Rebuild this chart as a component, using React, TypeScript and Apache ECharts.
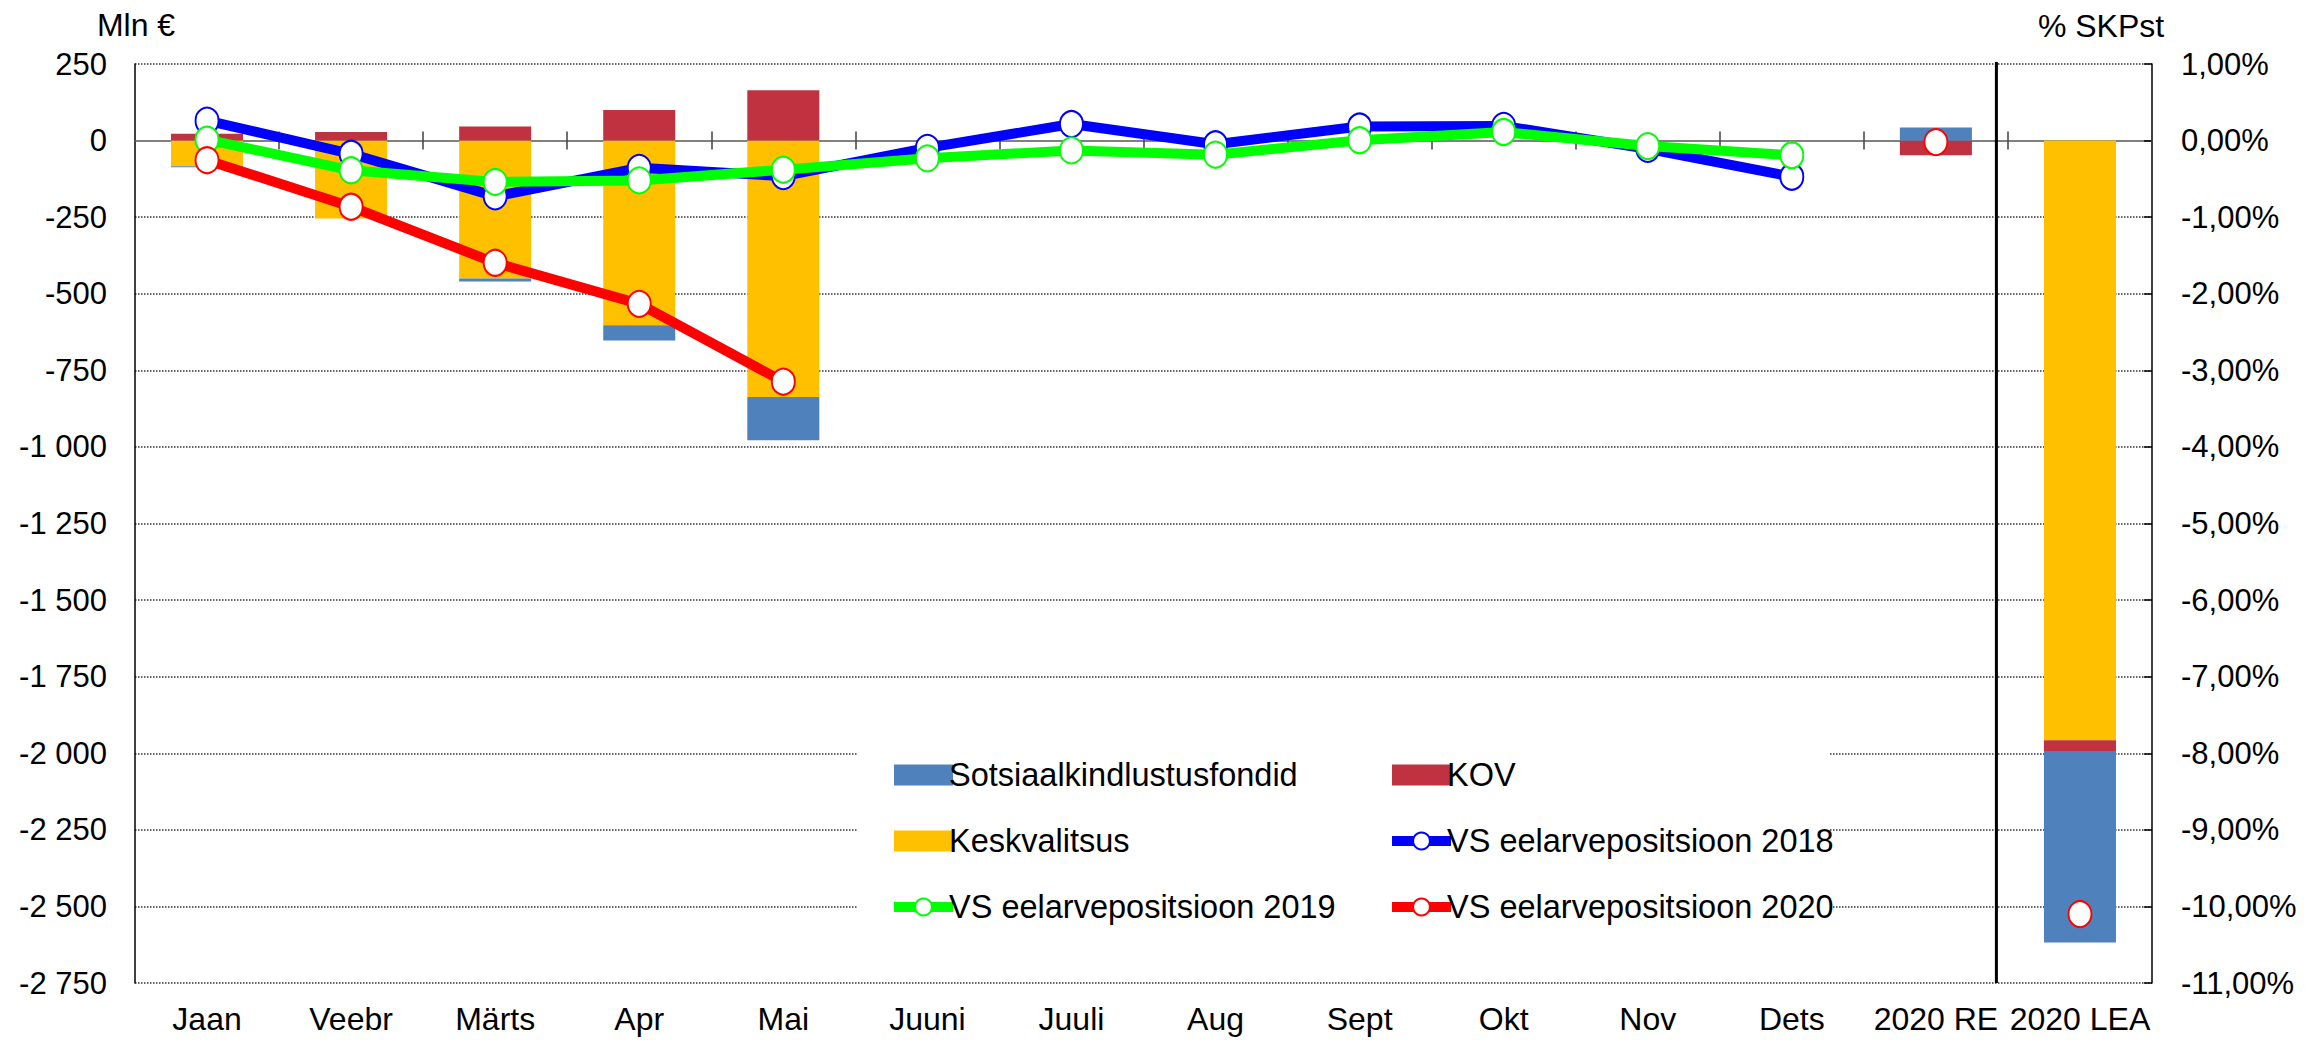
import React, { useEffect, useRef } from "react";
import * as echarts from "echarts";

const categories = ["Jaan", "Veebr", "Märts", "Apr", "Mai", "Juuni", "Juuli", "Aug", "Sept", "Okt", "Nov", "Dets", "2020 RE", "2020 LEA"];

// Monthly bars (Mln €), left axis
const keskvalitsusMln = [-84, -254, -450, -603, -837, null, null, null, null, null, null, null, null, null];
const kovMln = [22, 28, 46, 100, 164, null, null, null, null, null, null, null, null, null];
const sotsiaalMln = [-3, 0, -10, -50, -141, null, null, null, null, null, null, null, null, null];

// Annual bars (% SKPst), right axis
const keskvalitsusPct = [null, null, null, null, null, null, null, null, null, null, null, null, 0, -7.83];
const kovPct = [null, null, null, null, null, null, null, null, null, null, null, null, -0.19, -0.14];
const sotsiaalPct = [null, null, null, null, null, null, null, null, null, null, null, null, 0.17, -2.5];

// Lines (Mln €)
const vs2018 = [65, -43, -182, -89, -116, -24, 54, -12, 46, 48, -27, -118, null, null];
const vs2019 = [3, -97, -135, -130, -95, -58, -32, -46, 1, 28, -18, -48, null, null];
const vs2020 = [-64, -216, -399, -533, -787, null, null, null, null, null, null, null, null, null];
// 2020 points in % SKPst
const vs2020Pct = [null, null, null, null, null, null, null, null, null, null, null, null, -0.02, -10.1];

const leftTicks = { min: -2750, max: 250, interval: 250 };
const rightTicks = { min: -11, max: 1, interval: 1 };

const FONT = 'Arial, "Liberation Sans", sans-serif';
const C_BLUE_BAR = "#4F81BD";
const C_RED_BAR = "#C0323F";
const C_YEL = "#FFC000";

const fmtMln = (v: number) => {
  const s = Math.abs(v).toString().replace(/\B(?=(\d{3})+(?!\d))/g, " ");
  return (v < 0 ? "-" : "") + s;
};
const fmtPct = (v: number) => {
  const s = Math.abs(v).toFixed(2).replace(".", ",");
  return (v < 0 ? "-" : "") + s + "%";
};

export default function App() {
  const ref = useRef<HTMLDivElement>(null);
  useEffect(() => {
    if (!ref.current) return;
    const chart = echarts.init(ref.current, null, { renderer: "svg" });
    const barBase = { type: "bar", barWidth: "50%", barGap: "-100%", xAxisIndex: 0 };
    const lineBase = {
      type: "line",
      xAxisIndex: 0,
      symbol: "circle",
      symbolSize: [23, 26],
      showAllSymbol: true,
    };
    const textStyle = { fontSize: 32, fontFamily: FONT, color: "#000" };
    const legendBase = {
      orient: "vertical",
      top: 755,
      padding: 0,
      itemWidth: 59,
      itemHeight: 21,
      itemGap: 26,
      lineStyle: { width: 10 },
      textStyle: { ...textStyle, fontSize: 32.5, lineHeight: 40, padding: [0, 0, 0, -9] },
    };
    const staticGraphics = [
      {
        type: "rect",
        z: 1,
        shape: { x: 858, y: 726, width: 972, height: 222 },
        style: { fill: "#fff" },
      },
      {
        type: "text",
        x: 136,
        y: 25,
        style: { text: "Mln €", fontSize: 32, fontFamily: FONT, fill: "#000", align: "center", verticalAlign: "middle" },
      },
      {
        type: "text",
        x: 2101,
        y: 26,
        style: { text: "% SKPst", fontSize: 32, fontFamily: FONT, fill: "#000", align: "center", verticalAlign: "middle" },
      },
    ];
    const option: any = {
      animation: false,
      backgroundColor: "#fff",
      grid: { left: 135, right: 172, top: 64, bottom: 57, containLabel: false },
      xAxis: [
        {
          type: "category",
          data: categories,
          axisLine: { show: true, onZero: true, onZeroAxisIndex: 0, lineStyle: { color: "#808080", width: 2 } },
          axisTick: { show: true, length: 9, lineStyle: { color: "#404040", width: 1.5 } },
          axisLabel: { show: false },
          splitLine: { show: false },
        },
        {
          type: "category",
          data: categories,
          position: "bottom",
          axisLine: { show: false, onZero: false },
          axisTick: { show: false },
          axisLabel: { ...textStyle, margin: 20, interval: 0 },
          splitLine: { show: false },
        },
        {
          type: "category",
          data: categories,
          position: "bottom",
          axisLine: { show: false, onZero: true, onZeroAxisIndex: 0 },
          axisTick: { show: true, inside: true, length: 9, lineStyle: { color: "#404040", width: 1.5 } },
          axisLabel: { show: false },
          splitLine: { show: false },
        },
      ],
      yAxis: [
        {
          type: "value",
          position: "left",
          ...leftTicks,
          axisLine: { show: true, lineStyle: { color: "#000", width: 1.5 } },
          axisTick: { show: false },
          axisLabel: { ...textStyle, fontSize: 31, formatter: fmtMln, margin: 28 },
          splitLine: { show: true, lineStyle: { color: "#333", type: "dotted", width: 1.5 } },
        },
        {
          type: "value",
          position: "right",
          ...rightTicks,
          axisLine: { show: true, lineStyle: { color: "#000", width: 1.5 } },
          axisTick: { show: true, inside: true, length: 8, lineStyle: { color: "#000", width: 1.5 } },
          axisLabel: { ...textStyle, fontSize: 31, formatter: fmtPct, margin: 29, align: "left" },
          splitLine: { show: false },
        },
      ],
      legend: [
        {
          ...legendBase,
          left: 889,
          data: [
            { name: "Sotsiaalkindlustusfondid", icon: "rect" },
            { name: "Keskvalitsus", icon: "rect" },
            { name: "VS eelarvepositsioon 2019" },
          ],
        },
        {
          ...legendBase,
          left: 1387,
          data: [
            { name: "KOV", icon: "rect" },
            { name: "VS eelarvepositsioon 2018" },
            { name: "VS eelarvepositsioon 2020" },
          ],
        },
      ],
      graphic: staticGraphics,
      series: [
        { ...barBase, name: "Keskvalitsus", stack: "L", yAxisIndex: 0, data: keskvalitsusMln, itemStyle: { color: C_YEL } },
        { ...barBase, name: "KOV", stack: "L", yAxisIndex: 0, data: kovMln, itemStyle: { color: C_RED_BAR } },
        { ...barBase, name: "Sotsiaalkindlustusfondid", stack: "L", yAxisIndex: 0, data: sotsiaalMln, itemStyle: { color: C_BLUE_BAR } },
        { ...barBase, name: "Keskvalitsus", stack: "R", yAxisIndex: 1, data: keskvalitsusPct, itemStyle: { color: C_YEL } },
        { ...barBase, name: "KOV", stack: "R", yAxisIndex: 1, data: kovPct, itemStyle: { color: C_RED_BAR } },
        { ...barBase, name: "Sotsiaalkindlustusfondid", stack: "R", yAxisIndex: 1, data: sotsiaalPct, itemStyle: { color: C_BLUE_BAR } },
        {
          ...lineBase,
          name: "VS eelarvepositsioon 2018",
          yAxisIndex: 0,
          data: vs2018,
          z: 3,
          lineStyle: { color: "#0000FF", width: 10 },
          itemStyle: { color: "#fff", borderColor: "#0000FF", borderWidth: 2 },
        },
        {
          ...lineBase,
          name: "VS eelarvepositsioon 2019",
          yAxisIndex: 0,
          data: vs2019,
          z: 4,
          lineStyle: { color: "#00FF00", width: 10 },
          itemStyle: { color: "#fff", borderColor: "#00FF00", borderWidth: 2 },
        },
        {
          ...lineBase,
          name: "VS eelarvepositsioon 2020",
          yAxisIndex: 0,
          data: vs2020,
          z: 5,
          lineStyle: { color: "#FF0000", width: 10 },
          itemStyle: { color: "#fff", borderColor: "#FF0000", borderWidth: 2 },
        },
        {
          ...lineBase,
          name: "VS eelarvepositsioon 2020",
          yAxisIndex: 1,
          data: vs2020Pct,
          z: 5,
          lineStyle: { color: "#FF0000", width: 0, opacity: 0 },
          itemStyle: { color: "#fff", borderColor: "#FF0000", borderWidth: 2 },
        },
      ],
    };
    chart.setOption(option);

    // Separator line between 2020 RE and 2020 LEA
    const pRE = chart.convertToPixel({ xAxisIndex: 0 }, 12) as number;
    const pLEA = chart.convertToPixel({ xAxisIndex: 0 }, 13) as number;
    const yTop = chart.convertToPixel({ yAxisIndex: 0 }, leftTicks.max) as number;
    const yBot = chart.convertToPixel({ yAxisIndex: 0 }, leftTicks.min) as number;
    const xSep = pRE + (pLEA - pRE) * 0.42;
    chart.setOption({
      graphic: [
        ...staticGraphics,
        {
          type: "line",
          z: 6,
          shape: { x1: xSep, y1: yTop - 2, x2: xSep, y2: yBot },
          style: { stroke: "#000", lineWidth: 3 },
        },
      ],
    });

    return () => chart.dispose();
  }, []);
  return (
    <div
      ref={ref}
      style={{ position: "fixed", left: 0, top: 0, width: "2324px", height: "1040px", background: "#fff" }}
    />
  );
}
